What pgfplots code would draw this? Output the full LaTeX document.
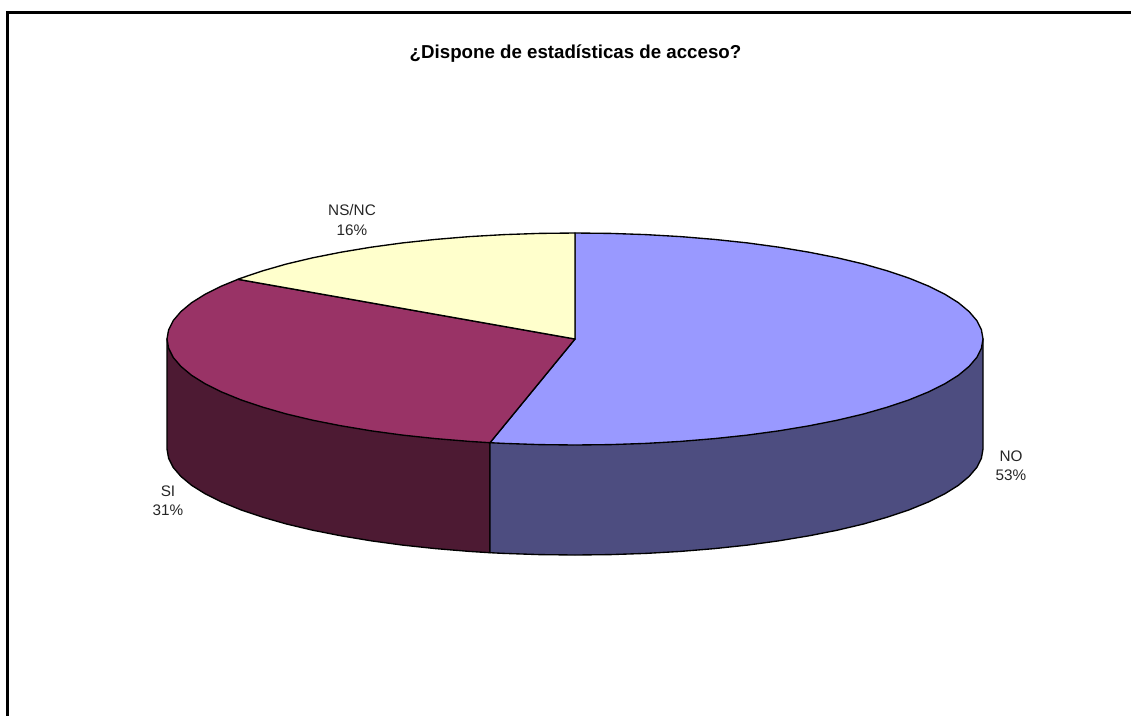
\documentclass[border=0pt]{standalone}
\usepackage{pgfplots}
\pgfplotsset{compat=1.18}
\usepackage{fontspec}
\setmainfont{Liberation Sans}
\definecolor{noTop}{HTML}{9999FF}
\definecolor{noSide}{HTML}{4D4D80}
\definecolor{siTop}{HTML}{993366}
\definecolor{siSide}{HTML}{4D1A33}
\definecolor{nsTop}{HTML}{FFFFCC}
\begin{document}
\begin{tikzpicture}
\path[use as bounding box] (0,0) rectangle (1131pt,715pt);
\begin{axis}[
  at={(0,0)}, anchor=south west,
  width=1131pt, height=715pt, scale only axis,
  xmin=0, xmax=1131, ymin=0, ymax=715, y dir=reverse,
  axis lines=none, clip=true,
  every axis plot/.append style={line join=round, line width=1.35pt},
]
% frame (open at the right and bottom)
\addplot[draw=black, line width=3pt, line join=miter, no marks] coordinates {(7.5,720) (7.5,12.5) (1140,12.5)};
% side walls
\addplot[draw=black, fill=siSide, no marks] coordinates {
(167,339) (490,442.7) (490,552.7) (469.4,551.4) (435.5,548.6) (402.6,545.1) (371,540.8) (341,535.8)
(312.7,530.2) (286.5,524) (262.5,517.1) (240.8,509.8) (221.7,502) (205.2,493.8) (191.6,485.3)
(180.9,476.4) (173.2,467.4) (168.6,458.2) (167,449)} --cycle;
\addplot[draw=black, fill=noSide, no marks] coordinates {
(490,442.7) (983,339) (983,449) (981.4,458.2) (976.8,467.4) (969.1,476.4) (958.4,485.3) (944.8,493.8)
(928.3,502) (909.2,509.8) (887.5,517.1) (863.5,524) (837.3,530.2) (809,535.8) (779,540.8) (747.4,545.1)
(714.5,548.6) (680.6,551.4) (645.8,553.4) (610.6,554.6) (575,555) (539.4,554.6) (504.2,553.4) (490,552.7)} --cycle;
% top: NO 53%
\addplot[draw=black, fill=noTop, no marks] coordinates {
(575,339) (490,442.7) (504.2,443.4) (539.4,444.6) (575,445) (610.6,444.6) (645.8,443.4) (680.6,441.4)
(714.5,438.6) (747.4,435.1) (779,430.8) (809,425.8) (837.3,420.2) (863.5,414) (887.5,407.1) (909.2,399.8)
(928.3,392) (944.8,383.8) (958.4,375.3) (969.1,366.4) (976.8,357.4) (981.4,348.2) (983,339)
(981.4,329.8) (976.8,320.6) (969.1,311.6) (958.4,302.7) (944.8,294.2) (928.3,286) (909.2,278.2)
(887.5,270.9) (863.5,264) (837.3,257.8) (809,252.2) (779,247.2) (747.4,242.9) (714.5,239.4)
(680.6,236.6) (645.8,234.6) (610.6,233.4) (575,233)} --cycle;
% top: SI 31%
\addplot[draw=black, fill=siTop, no marks] coordinates {
(575,339) (238,279.3) (221.7,286) (205.2,294.2) (191.6,302.7) (180.9,311.6) (173.2,320.6) (168.6,329.8)
(167,339) (168.6,348.2) (173.2,357.4) (180.9,366.4) (191.6,375.3) (205.2,383.8) (221.7,392) (240.8,399.8)
(262.5,407.1) (286.5,414) (312.7,420.2) (341,425.8) (371,430.8) (402.6,435.1) (435.5,438.6) (469.4,441.4)
(490,442.7)} --cycle;
% top: NS/NC 16%
\addplot[draw=black, fill=nsTop, no marks] coordinates {
(575,339) (575,233) (539.4,233.4) (504.2,234.6) (469.4,236.6) (435.5,239.4) (402.6,242.9) (371,247.2)
(341,252.2) (312.7,257.8) (286.5,264) (262.5,270.9) (240.8,278.2) (238,279.3)} --cycle;
\node[font=\fontsize{18.7}{22}\selectfont\bfseries, anchor=center, text=black] at (axis cs:575.5,54) {¿Dispone de estadísticas de acceso?};
\node[font=\fontsize{15.3}{19.5}\selectfont, align=center, text=black!85] at (axis cs:352,220) {NS/NC\\16\%};
\node[font=\fontsize{15.3}{19.5}\selectfont, align=center, text=black!85] at (axis cs:1011,465.5) {NO\\53\%};
\node[font=\fontsize{15.3}{19.5}\selectfont, align=center, text=black!85] at (axis cs:168,500.5) {SI\\31\%};
\end{axis}
\end{tikzpicture}
\end{document}
